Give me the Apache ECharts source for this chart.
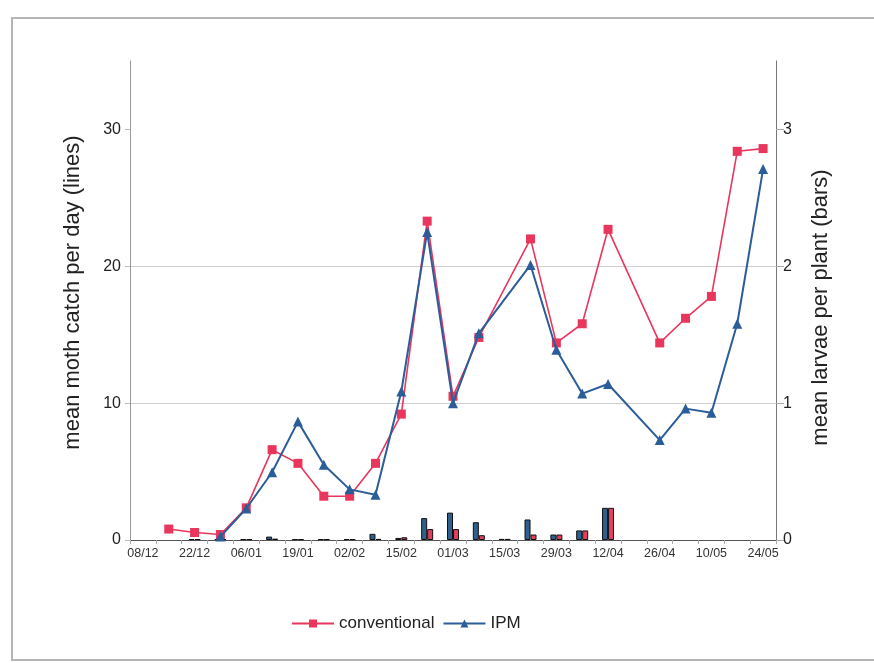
<!DOCTYPE html>
<html>
<head>
<meta charset="utf-8">
<script src="https://cdn.jsdelivr.net/npm/echarts@6/dist/echarts.min.js"></script>
<style>
html,body{margin:0;padding:0;background:#fff;}
#chart{width:874px;height:663px;}
</style>
</head>
<body>
<div id="chart"></div>
<script>
const categories = ['08/12','15/12','22/12','29/12','06/01','12/01','19/01','26/01','02/02','08/02','15/02','22/02','01/03','08/03','15/03','22/03','29/03','05/04','12/04','19/04','26/04','03/05','10/05','17/05','24/05'];
const conventionalCatch = [null,0.8,0.55,0.4,2.35,6.6,5.6,3.2,3.2,5.6,9.2,23.3,10.5,14.8,null,22.0,14.4,15.8,22.7,null,14.4,16.2,17.8,28.4,28.6];
const ipmCatch = [null,null,null,0.25,2.3,4.95,8.65,5.5,3.7,3.3,10.85,22.5,10.0,15.1,null,20.1,13.9,10.7,11.4,null,7.3,9.6,9.3,15.8,27.1];
const ipmLarvae = [null,null,0.006,0.006,0.006,0.025,0.006,0.006,0.006,0.045,0.015,0.16,0.2,0.13,0.008,0.15,0.04,0.07,0.235,null,null,null,null,null,null];
const conventionalLarvae = [null,null,0.006,0.006,0.006,0.01,0.006,0.006,0.006,0.008,0.02,0.08,0.08,0.035,0.008,0.04,0.04,0.07,0.235,null,null,null,null,null,null];
const leftTicks = [0,10,20,30];
const rightTicks = [0,1,2,3];
const leftRange = {min:0, max:35, interval:10};
const rightRange = {min:0, max:3.5, interval:1};

const RED = '#e8365c';
const BLUE = '#2b5d99';
const FONT = 'Liberation Sans';

const chart = echarts.init(document.getElementById('chart'), null, {renderer:'canvas'});
chart.setOption({
  animation:false,
  backgroundColor:'#fff',
  textStyle:{fontFamily:FONT},
  graphic:[{
    type:'rect', silent:true, z:-10,
    shape:{x:12,y:18,width:900,height:642},
    style:{fill:'none',stroke:'#b5b5b5',lineWidth:2}
  }],
  grid:{left:130,right:98,top:61,bottom:123},
  legend:{
    data:['conventional','IPM'],
    left:286, top:610,
    itemWidth:42, itemHeight:10, itemGap:8,
    textStyle:{fontSize:17,color:'#222',fontFamily:FONT}
  },
  xAxis:{
    type:'category',
    data:categories,
    boundaryGap:true,
    axisLine:{lineStyle:{color:'#555',width:1}},
    axisTick:{show:true,interval:0,length:4,lineStyle:{color:'#aaa'}},
    axisLabel:{interval:1,fontSize:12.5,color:'#333',margin:7,fontFamily:FONT},
    splitLine:{show:false}
  },
  yAxis:[{
    type:'value',
    min:leftRange.min,max:leftRange.max,interval:leftRange.interval,
    name:'mean moth catch per day (lines)',
    nameLocation:'middle', nameRotate:90, nameGap:46,
    nameTextStyle:{fontSize:22,color:'#222',fontFamily:FONT,padding:[0,0,0,16]},
    axisLine:{show:true,lineStyle:{color:'#999'}},
    axisTick:{show:true,length:5,customValues:leftTicks,lineStyle:{color:'#bbb'}},
    axisLabel:{fontSize:16,color:'#222',margin:9,fontFamily:FONT,customValues:leftTicks},
    splitLine:{show:true,lineStyle:{color:['rgba(0,0,0,0)','#cfcfcf','#cfcfcf','rgba(0,0,0,0)'],width:1}}
  },{
    type:'value',
    position:'right',
    min:rightRange.min,max:rightRange.max,interval:rightRange.interval,
    name:'mean larvae per plant (bars)',
    nameLocation:'middle', nameRotate:90, nameGap:34,
    nameTextStyle:{fontSize:22,color:'#222',fontFamily:FONT,padding:[0,14,0,0]},
    axisLine:{show:true,lineStyle:{color:'#777'}},
    axisTick:{show:true,length:8,customValues:rightTicks,lineStyle:{color:'#aaa'}},
    axisLabel:{fontSize:16,color:'#222',margin:7,fontFamily:FONT,customValues:rightTicks},
    splitLine:{show:false}
  }],
  series:[{
    name:'IPM bars',
    type:'bar',
    yAxisIndex:1,
    data:ipmLarvae,
    barWidth:6,
    barGap:'0%',
    itemStyle:{color:'#2f5f8e',borderColor:'#111',borderWidth:1},
    z:1
  },{
    name:'conventional bars',
    type:'bar',
    yAxisIndex:1,
    data:conventionalLarvae,
    barWidth:6,
    barGap:'0%',
    itemStyle:{color:'#e0405e',borderColor:'#111',borderWidth:1},
    z:1
  },{
    name:'conventional',
    type:'line',
    yAxisIndex:0,
    data:conventionalCatch,
    connectNulls:true,
    symbol:'rect',
    symbolSize:9,
    lineStyle:{color:RED,width:1.6},
    itemStyle:{color:RED},
    z:3
  },{
    name:'IPM',
    type:'line',
    yAxisIndex:0,
    data:ipmCatch,
    connectNulls:true,
    symbol:'triangle',
    symbolSize:10,
    lineStyle:{color:BLUE,width:2},
    itemStyle:{color:BLUE},
    z:4
  }]
});
</script>
</body>
</html>
